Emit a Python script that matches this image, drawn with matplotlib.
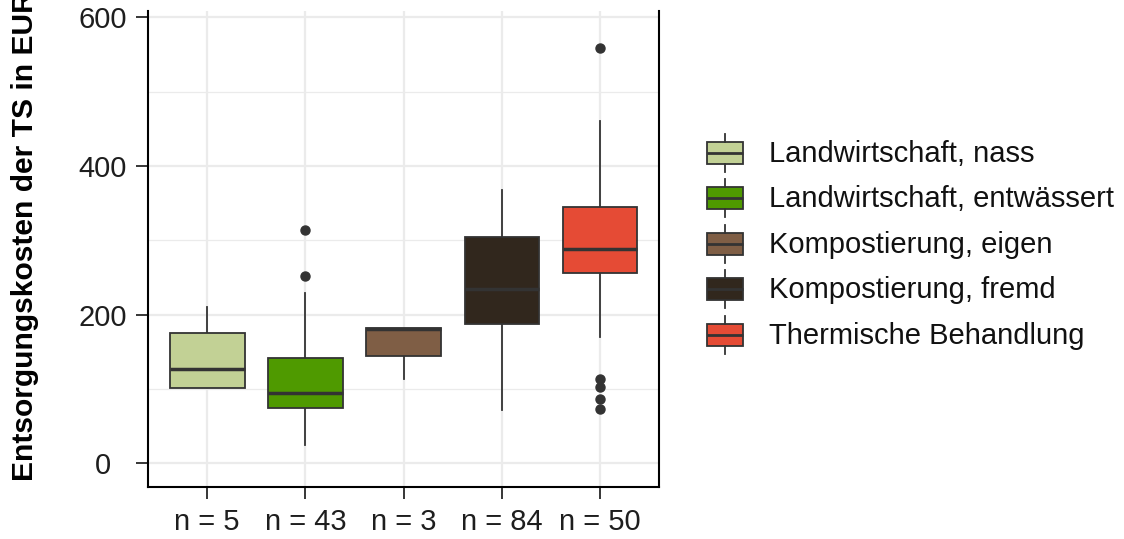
import matplotlib
matplotlib.use("Agg")
import matplotlib.pyplot as plt
from matplotlib.patches import Rectangle
from matplotlib.lines import Line2D

plt.rcParams['font.family'] = ['Liberation Sans', 'DejaVu Sans']

# data
categories = ["Landwirtschaft, nass", "Landwirtschaft, entwässert",
              "Kompostierung, eigen", "Kompostierung, fremd",
              "Thermische Behandlung"]
n_labels = ["n = 5", "n = 43", "n = 3", "n = 84", "n = 50"]
whislo = [101, 24, 114, 72, 170]
q1 = [101, 75, 144, 187, 256]
med = [127, 95, 180, 234, 288]
q3 = [175, 142, 182, 304, 345]
whishi = [210, 229, 182, 368, 461]
fliers = [[], [252, 314], [], [], [73, 86, 103, 113, 558]]
colors = ["#C2D195", "#4F9A00", "#7F5E45", "#31271D", "#E54B35"]
y_ticks = [0, 200, 400, 600]

edge = "#333333"

fig = plt.figure(figsize=(11.24, 5.39), dpi=100)
ax = fig.add_axes([0.1319, 0.0959, 0.4544, 0.8846])

stats = []
for i in range(len(categories)):
    stats.append(dict(med=med[i], q1=q1[i], q3=q3[i], whislo=whislo[i],
                      whishi=whishi[i], fliers=fliers[i], label=n_labels[i]))

bp = ax.bxp(stats, positions=range(1, 6), widths=0.76, patch_artist=True,
            showcaps=False,
            boxprops=dict(edgecolor=edge, linewidth=1.3),
            whiskerprops=dict(color=edge, linewidth=1.3),
            medianprops=dict(color=edge, linewidth=2.5),
            flierprops=dict(marker='o', markerfacecolor=edge,
                            markeredgecolor=edge, markersize=6.5))
for patch, c in zip(bp['boxes'], colors):
    patch.set_facecolor(c)
    patch.set_zorder(3)
for m in bp['medians']:
    m.set_zorder(4)
    m.set_solid_capstyle('butt')

ax.set_xlim(0.4, 5.6)
ax.set_ylim(-32.3, 609)
ax.set_yticks(y_ticks)
ax.set_yticks([100, 300, 500], minor=True)
ax.set_xticks(range(1, 6))
ax.set_xticklabels(n_labels)

ax.grid(True, which='major', color='#EBEBEB', linewidth=1.6)
ax.grid(True, which='minor', axis='y', color='#EBEBEB', linewidth=0.9)
ax.set_axisbelow(True)

for s in ['left', 'bottom', 'right']:
    ax.spines[s].set_linewidth(1.5)
    ax.spines[s].set_color('black')
ax.spines['top'].set_visible(False)

ax.tick_params(axis='both', which='major', length=8.6, width=1.1,
               colors='black', labelsize=21, labelcolor='#1e1e1e')
ax.tick_params(axis='y', which='minor', length=0)
ax.tick_params(axis='y', pad=24)
ax.tick_params(axis='x', pad=6)
for lab in ax.get_yticklabels():
    lab.set_horizontalalignment('center')

fig.text(0.0225, (539 - 481) / 539, "Entsorgungskosten der TS in EUR",
         rotation=90, ha='center', va='bottom', fontsize=21.6,
         fontweight='bold', color='black')

# legend drawn in pixel space
lg = fig.add_axes([0, 0, 1, 1])
lg.set_xlim(0, 1124)
lg.set_ylim(539, 0)
lg.axis('off')
for i, (name, c) in enumerate(zip(categories, colors)):
    cy = 152.5 + i * 45.6
    lg.add_patch(Rectangle((707, cy - 11), 36, 22, facecolor=c,
                           edgecolor=edge, linewidth=1.3))
    lg.add_line(Line2D([725, 725], [cy - 19, cy - 11], color=edge, linewidth=1.3))
    lg.add_line(Line2D([725, 725], [cy + 11, cy + 19], color=edge, linewidth=1.3))
    lg.add_line(Line2D([707, 743], [cy, cy], color=edge, linewidth=2.0,
                       solid_capstyle='butt'))
    lg.text(769, cy + 1, name, fontsize=21, va='center', ha='left',
            color='#111111')

fig.savefig("out.png", dpi=100)
